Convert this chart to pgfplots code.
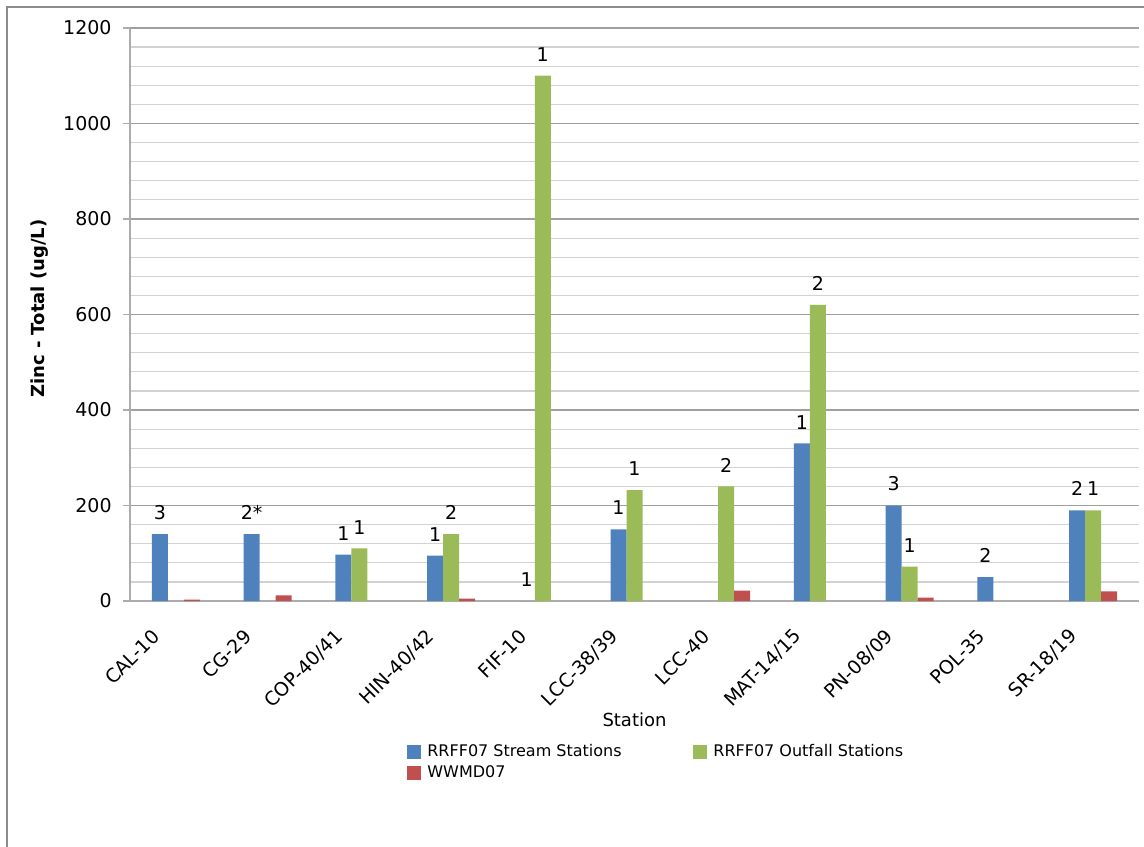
\documentclass[border=0pt]{standalone}
\usepackage{fontspec}
\setmainfont{DejaVu Sans}
\usepackage{pgfplots}
\pgfplotsset{compat=1.18}
\definecolor{cblue}{HTML}{4F81BD}
\definecolor{cgreen}{HTML}{9BBB59}
\definecolor{cred}{HTML}{C0504D}
\definecolor{frame}{RGB}{140,140,140}
\begin{document}
\begin{tikzpicture}
\useasboundingbox (-65pt,-122.5pt) rectangle (507pt,300.5pt);
\draw[frame, line width=0.6pt] (-61.5pt,-130pt) -- (-61.5pt,297pt) -- (520pt,297pt);
\begin{axis}[
  at={(0pt,0pt)}, anchor=south west,
  scale only axis, width=504.5pt, height=286.5pt,
  ybar, bar width=8pt, ybar=0pt,
  xmin=-0.5, xmax=10.5, ymin=0, ymax=1200,
  axis x line*=bottom, axis y line*=left,
  axis line style={gray!65, line width=0.6pt, -},
  xtick={0,...,10},
  xticklabels={CAL-10, CG-29, COP-40/41, HIN-40/42, FIF-10, LCC-38/39, LCC-40, MAT-14/15, PN-08/09, POL-35, SR-18/19},
  x tick style={draw=none},
  xticklabel style={xshift=-9.8pt, yshift=-12.4pt, rotate=45, anchor=east, font=\fontsize{9.5}{10}\selectfont, inner sep=0pt},
  ytick={0,200,...,1200}, minor y tick num=4,
  ymajorgrids, yminorgrids,
  major grid style={gray!75, line width=0.6pt},
  minor grid style={gray!35, line width=0.6pt},
  y tick style={gray!65, line width=0.6pt},
  tick align=outside, major tick length=3.5pt, minor tick length=0pt,
  /pgf/number format/assume math mode=true,
  yticklabel style={font=\fontsize{9.5}{10}\selectfont, anchor=east, inner sep=0pt, xshift=-5.5pt, /pgf/number format/1000 sep={}},
  ylabel={Zinc - Total (ug/L)},
  ylabel style={font=\bfseries\fontsize{9}{10}\selectfont, at={(axis description cs:-0.0892,0.51)}, anchor=center},
  xlabel={Station},
  xlabel style={font=\fontsize{9}{10}\selectfont, at={(axis description cs:0.5,-0.2077)}, anchor=center},
  every node near coord/.append style={font=\fontsize{9.5}{10}\selectfont, text=black, anchor=south, inner sep=0pt, yshift=7pt},
  legend columns=2, legend cell align=left,
  legend style={at={(axis description cs:0.2745,-0.2496)}, anchor=north west, draw=none, fill=none, inner sep=0pt,
    font=\fontsize{8}{9}\selectfont, row sep=3pt, nodes={inner sep=0pt},
    /tikz/every odd column/.append style={column sep=3pt}},
  every axis plot post/.append style={legend image code/.code={\fill[#1] (0pt,-3.5pt) rectangle (7pt,3.5pt);}},
]
\addplot[fill=cblue, draw=none, nodes near coords, point meta=explicit symbolic] coordinates {
  (0,140) [3] (1,140) [2*] (2,97) [1] (3,95) [1] (4,0) [1] (5,150) [1] (7,330) [1] (8,200) [3] (9,50) [2] (10,190) [2]
};
\addlegendentry{\makebox[133pt][l]{RRFF07 Stream Stations}}
\addplot[fill=cgreen, draw=none, nodes near coords, point meta=explicit symbolic] coordinates {
  (2,110) [1] (3,140) [2] (4,1100) [1] (5,232) [1] (6,240) [2] (7,620) [2] (8,72) [1] (10,190) [1]
};
\addlegendentry{RRFF07 Outfall Stations}
\addplot[fill=cred, draw=none] coordinates {
  (0,3) (1,12) (3,5) (6,22) (8,7) (10,20)
};
\addlegendentry{WWMD07}
\end{axis}
\end{tikzpicture}
\end{document}
